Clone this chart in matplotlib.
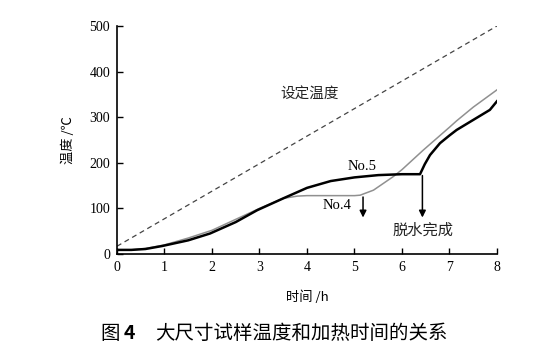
import matplotlib
matplotlib.use("Agg")
import matplotlib.pyplot as plt
import numpy as np

plt.rcParams['font.family'] = ['Liberation Serif', 'Noto Sans CJK SC']

# Data
set_x = [0, 8]
set_y = [17, 500]

no5_x = [0, 0.3, 0.6, 0.95, 1.5, 1.96, 2.5, 2.95, 3.5, 4.0, 4.5, 5.0, 5.5, 6.0, 6.2, 6.38,
         6.48, 6.59, 6.8, 7.0, 7.15, 7.5, 7.85, 8.0]
no5_y = [9, 9, 11, 17.5, 30, 45, 70, 96, 122, 145, 160, 168, 173, 175, 175, 175,
         197, 217, 243, 260, 272, 294, 316, 335]

no4_x = [0, 0.3, 0.6, 1.0, 1.5, 2.0, 2.5, 3.0, 3.5, 3.8, 4.0, 4.5, 5.0, 5.12, 5.4, 5.82,
         6.0, 6.45, 7.0, 7.15, 7.5, 8.0]
no4_y = [9, 9, 12, 20, 35, 52, 76, 100, 122, 127, 128, 128, 128, 129, 140, 170,
         185, 228, 278, 292, 322, 360]

arrow_x = [5.18, 6.43]
arrow_top = [125, 172]
arrow_bottom = [80, 80]

xticks = [0, 1, 2, 3, 4, 5, 6, 7, 8]
yticks = [0, 100, 200, 300, 400, 500]

fig = plt.figure(figsize=(5.5, 3.57), dpi=100)
ax = fig.add_axes([0.2127, 0.2885, 0.6909, 0.6387])

ax.plot(set_x, set_y, color='#444444', lw=0.9, ls=(0, (4, 3)))
ax.plot(no4_x, no4_y, color='#909090', lw=1.1)
ax.plot(no5_x, no5_y, color='black', lw=1.8)

for xa, yt, yb in zip(arrow_x, arrow_top, arrow_bottom):
    ax.annotate('', xy=(xa, yb), xytext=(xa, yt),
                arrowprops=dict(arrowstyle='-|>', color='black', lw=1.1,
                                mutation_scale=10, shrinkA=0, shrinkB=0))

ax.text(5.16, 191, 'No.5', fontsize=10.5, ha='center', va='center')
ax.text(4.63, 107, 'No.4', fontsize=10.5, ha='center', va='center')
ax.text(6.45, 53, '脱水完成', fontsize=11, ha='center', va='center',
        family=['Noto Sans CJK SC'], color='#222222')
ax.text(4.06, 349, '设定温度', fontsize=10.5, ha='center', va='center',
        family=['Noto Sans CJK SC'], color='#222222')

ax.set_xlim(0, 8)
ax.set_ylim(0, 500)
ax.set_xticks(xticks)
ax.set_yticks(yticks)
ax.tick_params(direction='in', length=4, width=1, labelsize=10, pad=5)
for s in ['top', 'right']:
    ax.spines[s].set_visible(False)
for s in ['left', 'bottom']:
    ax.spines[s].set_linewidth(1.2)

ax.set_xlabel('时间 /h', fontsize=9.5, family=['Noto Sans CJK SC'], labelpad=12)
ax.set_ylabel('温度 /℃', fontsize=9.5, family=['Noto Sans CJK SC', 'DejaVu Sans'], labelpad=10)

fig.text(100 / 550, 0.067, '图', fontsize=14, ha='left', va='center',
         family=['Noto Sans CJK SC'])
fig.text(124 / 550, 0.067, '4', fontsize=14, ha='left', va='center',
         family=['Noto Sans CJK SC'], weight='bold')
fig.text(155 / 550, 0.067, '大尺寸试样温度和加热时间的关系', fontsize=14,
         ha='left', va='center', family=['Noto Sans CJK SC'])

fig.savefig('out.png', dpi=100)
